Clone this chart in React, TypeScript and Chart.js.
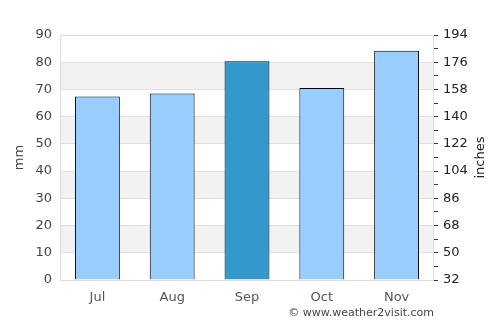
import React, { useEffect, useRef } from "react";
import { Chart, registerables } from "chart.js";

Chart.register(...registerables);

const months = ["Jul", "Aug", "Sep", "Oct", "Nov"];
const rainfallMm = [67.4, 68.5, 80.4, 70.5, 84.2];
const barColors = ["#99ccff", "#99ccff", "#3399cc", "#99ccff", "#99ccff"];
const rightMin = 32;
const rightMax = 194;
const rightStep = 9;
const rightLabelStep = 18;
const leftTitle = "mm";
const rightTitle = "inches";
const footerText = "© www.weather2visit.com";

const FONT = "'DejaVu Sans', sans-serif";

const decorPlugin = {
  id: "decor",
  beforeDraw(chart: any) {
    const { ctx, chartArea } = chart;
    const y = chart.scales.y;
    ctx.save();
    ctx.fillStyle = "#ffffff";
    ctx.fillRect(0, 0, chart.width, chart.height);
    ctx.fillStyle = "#f2f2f2";
    for (let v = 10; v < 90; v += 20) {
      const top = y.getPixelForValue(v + 10);
      const bot = y.getPixelForValue(v);
      ctx.fillRect(chartArea.left, top, chartArea.right - chartArea.left, bot - top);
    }
    ctx.restore();
  },
  afterDraw(chart: any) {
    const { ctx, chartArea } = chart;
    ctx.save();
    ctx.strokeStyle = "#dddddd";
    ctx.lineWidth = 1;
    ctx.strokeRect(chartArea.left + 0.5, chartArea.top + 0.5, chartArea.right - chartArea.left - 1, chartArea.bottom - chartArea.top);
    const midY = (chartArea.top + chartArea.bottom) / 2;
    ctx.font = `13px ${FONT}`;
    ctx.fillStyle = "#444";
    ctx.textAlign = "center";
    ctx.textBaseline = "middle";
    ctx.translate(20, midY);
    ctx.rotate(-Math.PI / 2);
    ctx.fillText(leftTitle, 0, 0);
    ctx.restore();
    ctx.save();
    ctx.font = `13px ${FONT}`;
    ctx.fillStyle = "#222";
    ctx.textAlign = "center";
    ctx.textBaseline = "middle";
    ctx.translate(481, midY);
    ctx.rotate(-Math.PI / 2);
    ctx.fillText(rightTitle, 0, 0);
    ctx.restore();
    ctx.save();
    ctx.font = `11px ${FONT}`;
    ctx.fillStyle = "#444";
    ctx.textAlign = "right";
    ctx.textBaseline = "middle";
    ctx.fillText(footerText, chartArea.right, 313);
    ctx.restore();
  },
};

export default function App() {
  const ref = useRef<HTMLCanvasElement>(null);
  useEffect(() => {
    document.body.style.margin = "0";
    const chart = new Chart(ref.current!, {
      type: "bar",
      data: {
        labels: months,
        datasets: [
          {
            data: rainfallMm,
            backgroundColor: barColors,
            borderColor: "#000",
            borderWidth: 1,
            barPercentage: 0.6,
            categoryPercentage: 1,
            yAxisID: "y",
          },
        ],
      },
      options: {
        animation: false,
        responsive: false,
        devicePixelRatio: 1,
        layout: { padding: { top: 35, left: 0, right: 0, bottom: 0 } },
        plugins: { legend: { display: false }, tooltip: { enabled: false } },
        scales: {
          x: {
            grid: { display: false, drawTicks: false },
            border: { display: false },
            ticks: { color: "#555", font: { family: FONT, size: 13 }, padding: 10 },
            afterFit: (s: any) => { s.height = 45; },
          },
          y: {
            position: "left",
            min: 0,
            max: 90,
            ticks: { stepSize: 10, color: "#444", font: { family: FONT, size: 13 }, padding: 8 },
            grid: { color: "#e0e0e0", drawTicks: false },
            border: { display: false },
            afterFit: (s: any) => { s.width = 60; },
          },
          y2: {
            position: "right",
            min: rightMin,
            max: rightMax,
            ticks: {
              stepSize: rightStep,
              autoSkip: false,
              color: "#222",
              font: { family: FONT, size: 13 },
              padding: 5,
              callback: (v: any) => ((v - rightMin) % rightLabelStep === 0 ? String(v) : ""),
            },
            grid: { drawOnChartArea: false, drawTicks: true, tickLength: 4, color: "#333" },
            border: { display: false },
            afterFit: (s: any) => { s.width = 66; },
          },
        },
      },
      plugins: [decorPlugin],
    });
    return () => chart.destroy();
  }, []);
  return (
    <div style={{ position: "absolute", left: 0, top: 0, width: 500, height: 325 }}>
      <canvas ref={ref} width={500} height={325} />
    </div>
  );
}
